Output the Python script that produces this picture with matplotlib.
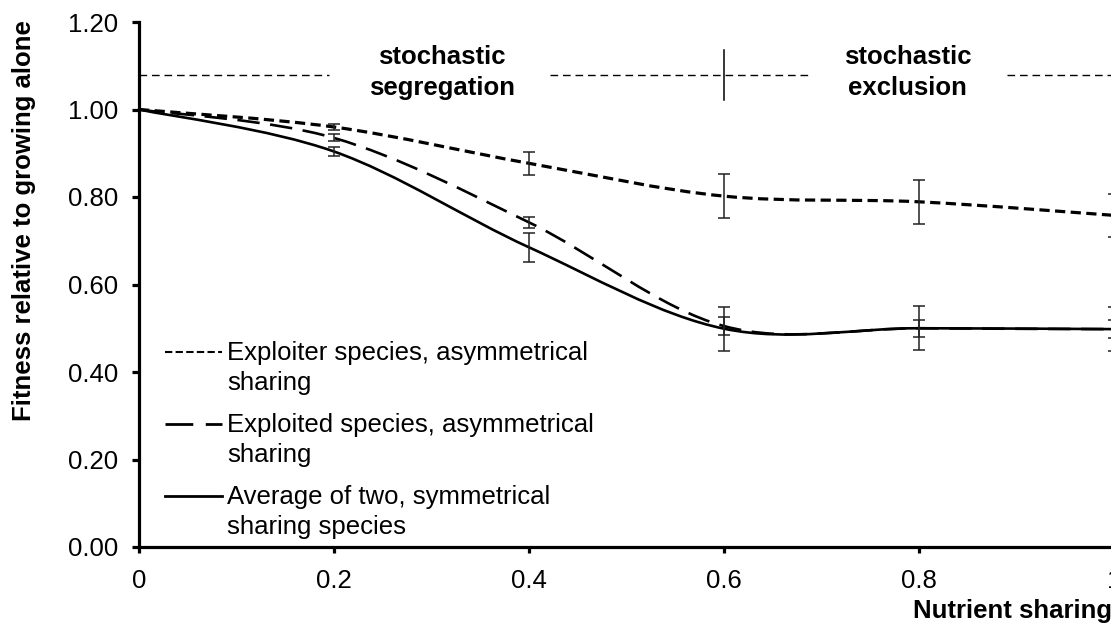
import numpy as np
import matplotlib
matplotlib.use("Agg")
import matplotlib.pyplot as plt
from matplotlib.path import Path
from matplotlib.patches import PathPatch
from matplotlib.lines import Line2D

plt.rcParams['font.family'] = ['Liberation Sans', 'DejaVu Sans']

# ---- data ----
sharing = [0.0, 0.2, 0.4, 0.6, 0.8, 1.0]
exploiter = [1.00, 0.960, 0.877, 0.802, 0.789, 0.758]
exploiter_err = [0.0, 0.007, 0.027, 0.050, 0.050, 0.050]
exploited = [1.00, 0.935, 0.742, 0.505, 0.500, 0.498]
exploited_err = [0.0, 0.008, 0.012, 0.020, 0.020, 0.020]
average = [1.00, 0.904, 0.685, 0.499, 0.500, 0.498]
average_err = [0.0, 0.011, 0.033, 0.050, 0.050, 0.050]

legend_labels = [["Exploiter species, asymmetrical", "sharing"],
                 ["Exploited species, asymmetrical", "sharing"],
                 ["Average of two, symmetrical", "sharing species"]]
x_ticks = [0, 0.2, 0.4, 0.6, 0.8, 1.0]
x_ticklabels = ["0", "0.2", "0.4", "0.6", "0.8", "1"]
y_ticks = [0.0, 0.2, 0.4, 0.6, 0.8, 1.0, 1.2]

# regime annotation
regime_level = 1.079
regime_segments = [(0.0, 0.195), (0.4215, 0.686), (0.89, 1.01)]
regime_boundary = 0.6
regime_names = [("stochastic", "segregation", 0.311), ("stochastic", "exclusion", 0.788)]

FS = 18.5


def smooth_path(x, y):
    """Excel-like smoothed line as cubic Bezier path through the points."""
    x = np.asarray(x, float)
    y = np.asarray(y, float)
    n = len(x)
    verts = [(x[0], y[0])]
    codes = [Path.MOVETO]
    for i in range(n - 1):
        x0, y0 = (x[i - 1], y[i - 1]) if i > 0 else (x[i], y[i])
        x3, y3 = (x[i + 2], y[i + 2]) if i + 2 < n else (x[i + 1], y[i + 1])
        c1 = (x[i] + (x[i + 1] - x0) / 6.0, y[i] + (y[i + 1] - y0) / 6.0)
        c2 = (x[i + 1] - (x3 - x[i]) / 6.0, y[i + 1] - (y3 - y[i]) / 6.0)
        verts += [c1, c2, (x[i + 1], y[i + 1])]
        codes += [Path.CURVE4] * 3
    return Path(verts, codes)


fig = plt.figure(figsize=(11.11, 6.24), dpi=100)
W, H = 1111, 624
ax = fig.add_axes([139 / W, 77 / H, (1114 - 139) / W, (547 - 22) / H])
ax.set_xlim(0, 1)
ax.set_ylim(0, 1.2)

styles = [
    dict(data=exploiter, err=exploiter_err, lw=2.3, ls=(0, (3.2, 1.7))),
    dict(data=exploited, err=exploited_err, lw=1.9, ls=(0, (8.5, 4.0))),
    dict(data=average, err=average_err, lw=1.9, ls='solid'),
]
for s in styles:
    p = PathPatch(smooth_path(sharing, s['data']), facecolor='none', edgecolor='black',
                  lw=s['lw'], linestyle=s['ls'], zorder=3)
    ax.add_patch(p)
    ax.errorbar(sharing[1:], s['data'][1:], yerr=s['err'][1:], fmt='none', ecolor='#222222',
                 elinewidth=1.1, capsize=4.0, capthick=1.1, zorder=4)

# regime annotations
for a, b in regime_segments:
    ax.plot([a, b], [regime_level, regime_level], color='black', lw=1.0,
            ls=(0, (5.5, 3.5)), clip_on=False)
ax.plot([regime_boundary, regime_boundary], [1.022, 1.136], color='black', lw=1.1)
for l1, l2, xc in regime_names:
    ax.text(xc, 1.105, l1, ha='center', va='baseline', fontsize=FS, fontweight='bold')
    ax.text(xc, 1.034, l2, ha='center', va='baseline', fontsize=FS, fontweight='bold')

# axes styling
for sp in ['top', 'right']:
    ax.spines[sp].set_visible(False)
for sp in ['left', 'bottom']:
    ax.spines[sp].set_linewidth(2.3)
ax.set_xticks(x_ticks)
ax.set_xticklabels(x_ticklabels)
ax.set_yticks(y_ticks)
ax.set_yticklabels([f"{v:.2f}" for v in y_ticks])
ax.tick_params(axis='both', direction='out', width=2.3, labelsize=FS, colors='black')
ax.tick_params(axis='y', length=5, pad=10)
ax.tick_params(axis='x', length=4, pad=12)

# legend (manual, handle aligned with first label line)
leg_line_y = [352, 424, 496]
leg_ls = [(0, (3.5, 1.6)), (0, (10, 4.5)), 'solid']
leg_lw = [1.5, 2.0, 2.0]
for i in range(3):
    yy = 1 - leg_line_y[i] / H
    fig.add_artist(Line2D([165 / W, 222 / W], [yy, yy], color='black', lw=leg_lw[i],
                          ls=leg_ls[i], transform=fig.transFigure))
    fig.text(227 / W, 1 - (leg_line_y[i] + 8) / H, legend_labels[i][0], fontsize=FS,
             ha='left', va='baseline')
    fig.text(227 / W, 1 - (leg_line_y[i] + 38) / H, legend_labels[i][1], fontsize=FS,
             ha='left', va='baseline')

fig.text(24 / W, 1 - 221 / H, "Fitness relative to growing alone", rotation=90,
         ha='center', va='center', fontsize=FS, fontweight='bold')
fig.text(913 / W, 1 - 618 / H, "Nutrient sharing", ha='left', va='baseline',
         fontsize=FS, fontweight='bold')

fig.savefig("out.png", dpi=100)
